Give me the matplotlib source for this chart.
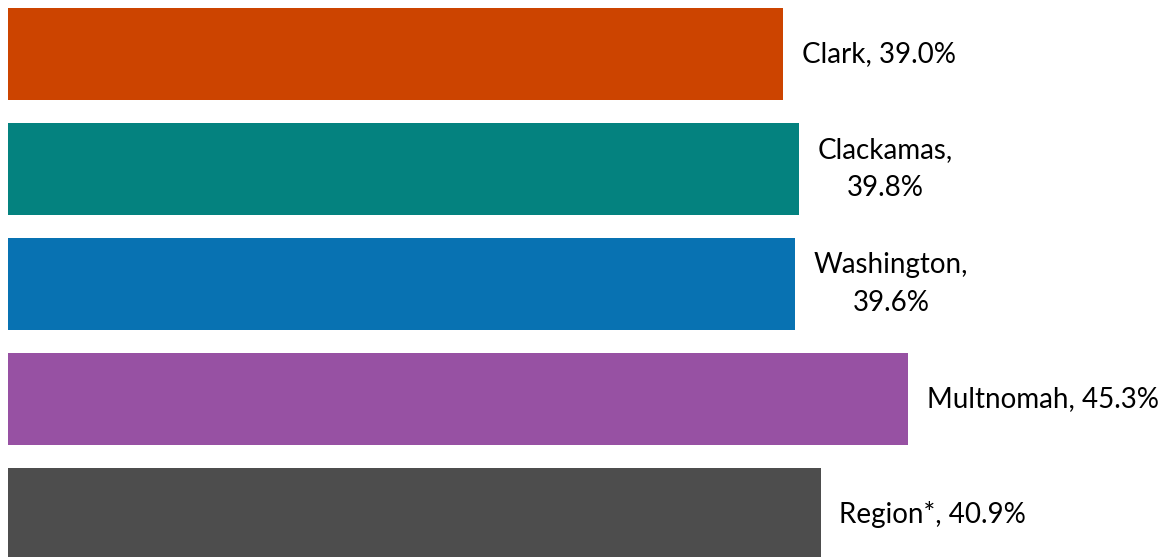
import matplotlib.pyplot as plt

counties = ["Clark", "Clackamas", "Washington", "Multnomah", "Region*"]
valeurs = [39.0, 39.8, 39.6, 45.3, 40.9]
couleurs = ["#CC4400", "#04827F", "#0872B2", "#9751A3", "#4D4D4D"]
# labels coupés sur deux lignes comme dans l'original
retour_ligne = [False, True, True, False, False]

fig = plt.figure(figsize=(11.59, 5.57), dpi=100)
ax = fig.add_axes([0, 0, 1, 1])

positions = list(range(len(counties)))
ax.barh(positions, valeurs, height=0.8, color=couleurs)

for y, nom, v, coupe in zip(positions, counties, valeurs, retour_ligne):
    sep = ",\n" if coupe else ", "
    ax.annotate(f"{nom}{sep}{v:.1f}%", xy=(v, y), xytext=(13.5, 0),
                textcoords="offset points", ha="left", va="center",
                multialignment="center", fontsize=20, family="Lato",
                color="#000000", linespacing=1.55)

# 8 px de marge à gauche, 115 px entre barres
ax.set_xlim(-8 / 19.87, (1159 - 8) / 19.87)
ax.set_ylim(-0.4696 + 557 / 115, -0.4696)
ax.axis("off")

fig.savefig("out.png", dpi=100)
